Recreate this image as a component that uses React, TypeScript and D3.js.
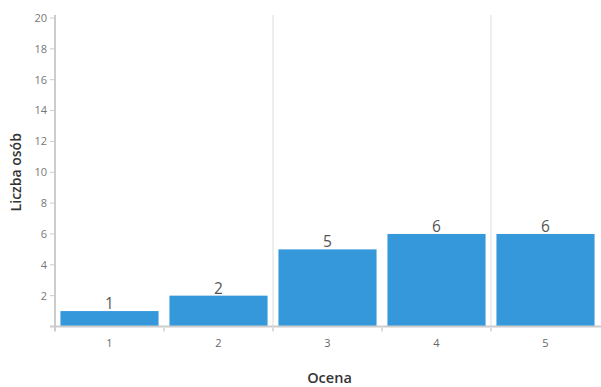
import React from 'react';
import * as d3 from 'd3';

const categories = ['1', '2', '3', '4', '5'];
const counts = [1, 2, 5, 6, 6];
const yTicks = [2, 4, 6, 8, 10, 12, 14, 16, 18, 20];

const W = 601;
const H = 387;
const margin = { top: 18, right: 1, bottom: 61, left: 55 };
const font = '"Open Sans", sans-serif';

export default function App() {
  const x = d3
    .scaleBand()
    .domain(categories)
    .range([margin.left, W - margin.right])
    .paddingInner(0.1)
    .paddingOuter(0.05);
  const y = d3.scaleLinear().domain([0, 20]).range([H - margin.bottom + 0.5, margin.top]);
  const step = x.step();
  const bounds = categories.map((c, i) => margin.left + i * step);
  bounds.push(W - margin.right);
  const x0 = y(0);

  return (
    <svg width={W} height={H} style={{ position: 'absolute', left: 0, top: 0 }} fontFamily={font}>
      {/* vertical grid lines */}
      {[bounds[2], bounds[4]].map((b, i) => (
        <line key={i} x1={b} x2={b} y1={15} y2={x0} stroke="#eee" strokeWidth={2} />
      ))}
      {/* y axis */}
      <line x1={margin.left} x2={margin.left} y1={15} y2={x0 + 5} stroke="#ccc" strokeWidth={2} />
      {[0, ...yTicks].map(t => (
        <line key={t} x1={margin.left - 5} x2={margin.left} y1={y(t)} y2={y(t)} stroke="#ccc" />
      ))}
      {yTicks.map(t => (
        <text key={t} x={47} y={y(t)} dy="0.35em" textAnchor="end" fontSize={11} fill="#777">
          {t}
        </text>
      ))}
      <text
        transform={`translate(21, ${(y(0) + y(20)) / 2}) rotate(-90)`}
        textAnchor="middle"
        fontSize={14}
        fontWeight={600}
        fill="#333"
      >
        Liczba osób
      </text>
      {/* bars */}
      {categories.map((c, i) => (
        <g key={c}>
          <rect
            x={x(c)}
            y={y(counts[i])}
            width={x.bandwidth()}
            height={x0 - y(counts[i])}
            fill="#3498db"
          />
          <text
            x={(x(c) as number) + x.bandwidth() / 2}
            y={y(counts[i]) - 2}
            textAnchor="middle"
            fontSize={15.5}
            fill="#555"
          >
            {counts[i]}
          </text>
        </g>
      ))}
      {/* x axis */}
      <line x1={margin.left - 5} x2={W} y1={x0} y2={x0} stroke="#ccc" strokeWidth={2} />
      {bounds.slice(1, 5).map((b, i) => (
        <line key={i} x1={b} x2={b} y1={x0} y2={x0 + 5} stroke="#ddd" strokeWidth={2} />
      ))}
      {categories.map(c => (
        <text
          key={c}
          x={(x(c) as number) + x.bandwidth() / 2}
          y={x0 + 20}
          textAnchor="middle"
          fontSize={11}
          fill="#666"
        >
          {c}
        </text>
      ))}
      <text
        x={(margin.left + W - margin.right) / 2 + 2}
        y={383}
        textAnchor="middle"
        fontSize={14.5}
        fontWeight={600}
        fill="#333"
      >
        Ocena
      </text>
    </svg>
  );
}
